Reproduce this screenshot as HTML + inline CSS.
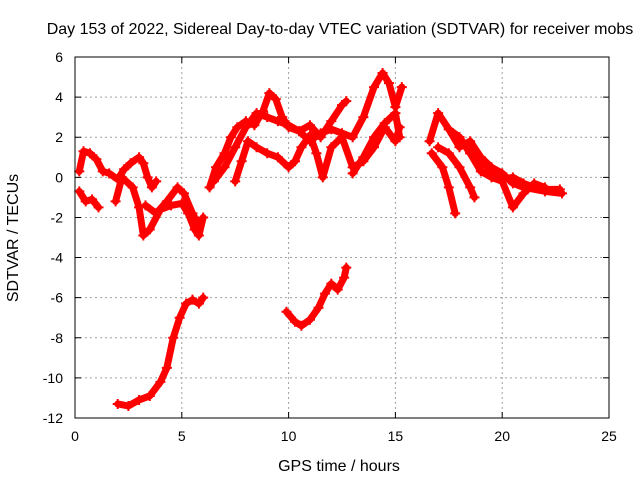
<!DOCTYPE html>
<html><head><meta charset="utf-8"><style>
body{margin:0;background:#fff}
svg{display:block;font-family:"Liberation Sans",sans-serif}
</style></head><body>
<svg id="chart" width="640" height="480">
<rect width="640" height="480" fill="#fff"/>
<text x="340" y="34" text-anchor="middle" font-size="16">Day 153 of 2022, Sidereal Day-to-day VTEC variation (SDTVAR) for receiver mobs</text>
<text x="339" y="471" text-anchor="middle" font-size="16">GPS time / hours</text>
<text transform="translate(18,238) rotate(-90)" text-anchor="middle" font-size="16">SDTVAR / TECUs</text>
<g id="grid"></g><g id="marks"></g><g id="axes"></g>
</svg>
<script>
const xTicks=[0,5,10,15,20,25];
const yTicks=[-12,-10,-8,-6,-4,-2,0,2,4,6];
const track1=[[2,-11.3],[2.5,-11.4],[3,-11.1],[3.5,-10.9],[4,-10.2],[4.3,-9.5],[4.6,-8],[4.9,-7],[5.2,-6.3],[5.5,-6.1],[5.8,-6.3],[6,-6]];
const track2=[[9.9,-6.7],[10.3,-7.2],[10.6,-7.4],[11,-7.1],[11.4,-6.5],[11.7,-5.8],[12,-5.3],[12.3,-5.6],[12.6,-5],[12.7,-4.5]];
const track3=[[0.2,0.3],[0.4,1.3],[0.7,1.2],[1,0.9],[1.3,0.3],[1.6,0.2],[2,-0.1],[2.3,0.4],[2.6,0.7],[3,1],[3.2,0.7],[3.4,0],[3.6,-0.5],[3.8,-0.2]];
const track4=[[0.2,-0.7],[0.5,-1.2],[0.8,-1.1],[1.1,-1.5]];
const track5=[[1.9,-1.2],[2.2,0],[2.7,-0.5],[3,-1.5],[3.2,-2.9],[3.5,-2.6],[4,-1.6],[4.5,-1.4],[5,-1.3],[5.3,-1.8],[5.6,-2.6],[5.8,-2.9],[6,-2]];
const track6=[[3.3,-1.4],[3.8,-1.8],[4.3,-1.2],[4.8,-0.5],[5.1,-0.8],[5.5,-1.8],[5.8,-2.4]];
const track7=[[6.3,-0.5],[6.6,0.5],[7,1.2],[7.3,2],[7.6,2.5],[8,2.8],[8.4,2.6],[8.8,3.3],[9.1,4.2],[9.4,3.9],[9.7,3],[10,2.5],[10.5,2.3],[11,1.8],[11.5,2.2],[12,2.4],[12.5,2.2],[13,2],[13.5,3],[14,4.5],[14.4,5.2],[14.7,4.7],[15,3.5],[15.3,4.5]];
const track8=[[6.5,-0.2],[7,0.5],[7.5,1.5],[8,2.5],[8.5,3.2],[9,3],[9.5,2.8],[10,2.6],[10.5,2.3],[11,2.6],[11.5,2.0],[12,2.8],[12.5,3.6],[12.7,3.8]];
const track9=[[7.5,-0.2],[7.8,0.8],[8.1,1.8],[8.5,1.5],[9,1.2],[9.5,1],[10,0.5],[10.3,0.8],[10.6,1.5],[11,2.1],[11.3,1.2],[11.6,0],[12,1.5],[12.5,2],[13,0.5],[13.5,0.8],[14,1.5],[14.5,2.5],[15,1.8],[15.2,2.5]];
const track10=[[13,0.2],[13.5,1],[14,2],[14.5,2.7],[15,3.2],[15.2,2]];
const track11=[[16.6,1.8],[17,3.2],[17.5,2.4],[18,2],[18.5,1.2],[19,0.8],[19.5,0.3],[20,-0.1],[20.5,0],[21,-0.3],[21.5,-0.5],[22,-0.6],[22.7,-0.6]];
const track12=[[16.7,1.2],[17.2,0.5],[17.5,-0.5],[17.8,-1.8]];
const track13=[[17,1.5],[17.5,1.2],[18,0.5],[18.5,-0.5],[18.7,-1]];
const track14=[[17.5,2.4],[18,1.5],[18.5,1.8],[19,1],[19.5,0.5],[20,0.2],[20.5,-0.3],[21,-0.5],[22,-0.7],[22.8,-0.8]];
const track15=[[18,2],[18.5,1.2],[19,0.3],[19.5,0],[20,-0.2],[20.5,-1.5],[21,-0.8],[21.5,-0.3],[22,-0.5]];
const tracks=[track1,track2,track3,track4,track5,track6,track7,track8,track9,track10,track11,track12,track13,track14,track15];
const L=75,R=609,T=57,B=418;
const xs=v=>L+(v-0)/25*(R-L);
const ys=v=>B-(v+12)/18*(B-T);
const NS='http://www.w3.org/2000/svg';
function mk(tag,attrs,parent){const e=document.createElementNS(NS,tag);for(const k in attrs)e.setAttribute(k,attrs[k]);parent.appendChild(e);return e;}
const grid=document.getElementById('grid'),axes=document.getElementById('axes'),marks=document.getElementById('marks');
xTicks.forEach(t=>{
  const x=xs(t);
  if(t>0&&t<25){const g=mk('line',{x1:x,x2:x,y1:T,y2:B,stroke:'#a0a0a0','stroke-dasharray':'2,3'},grid);
  
  }
  const tk=mk('path',{d:`M${x},${B}v-6M${x},${T}v6`,stroke:'#000'},axes);
  
  
  const lb=mk('text',{x:x,y:B+23,'text-anchor':'middle','font-size':14},axes);lb.textContent=t;
  
  
});
yTicks.forEach(t=>{
  const y=ys(t);
  if(t>-12&&t<6){const g=mk('line',{x1:L,x2:R,y1:y,y2:y,stroke:'#a0a0a0','stroke-dasharray':'2,3'},grid);
  
  }
  const tk=mk('path',{d:`M${L},${y}h6M${R},${y}h-6`,stroke:'#000'},axes);
  
  
  const lb=mk('text',{x:L-12,y:y+5,'text-anchor':'end','font-size':14},axes);lb.textContent=t;
  
  
});
const fr=mk('rect',{x:L,y:T,width:R-L,height:B-T,fill:'none',stroke:'#000'},axes);


tracks.forEach((tr,i)=>{
  const p=mk('polyline',{points:tr.map(d=>xs(d[0])+','+ys(d[1])).join(' '),fill:'none',stroke:'#f00','stroke-width':7,'stroke-linejoin':'round','stroke-linecap':'round'},marks);
  
  
  tr.forEach(d=>{
    const m=mk('path',{d:`M${xs(d[0])-5},${ys(d[1])}h10M${xs(d[0])},${ys(d[1])-5}v10`,stroke:'#f00','stroke-width':2},marks);
    
    
  });
});
</script>
</body></html>
